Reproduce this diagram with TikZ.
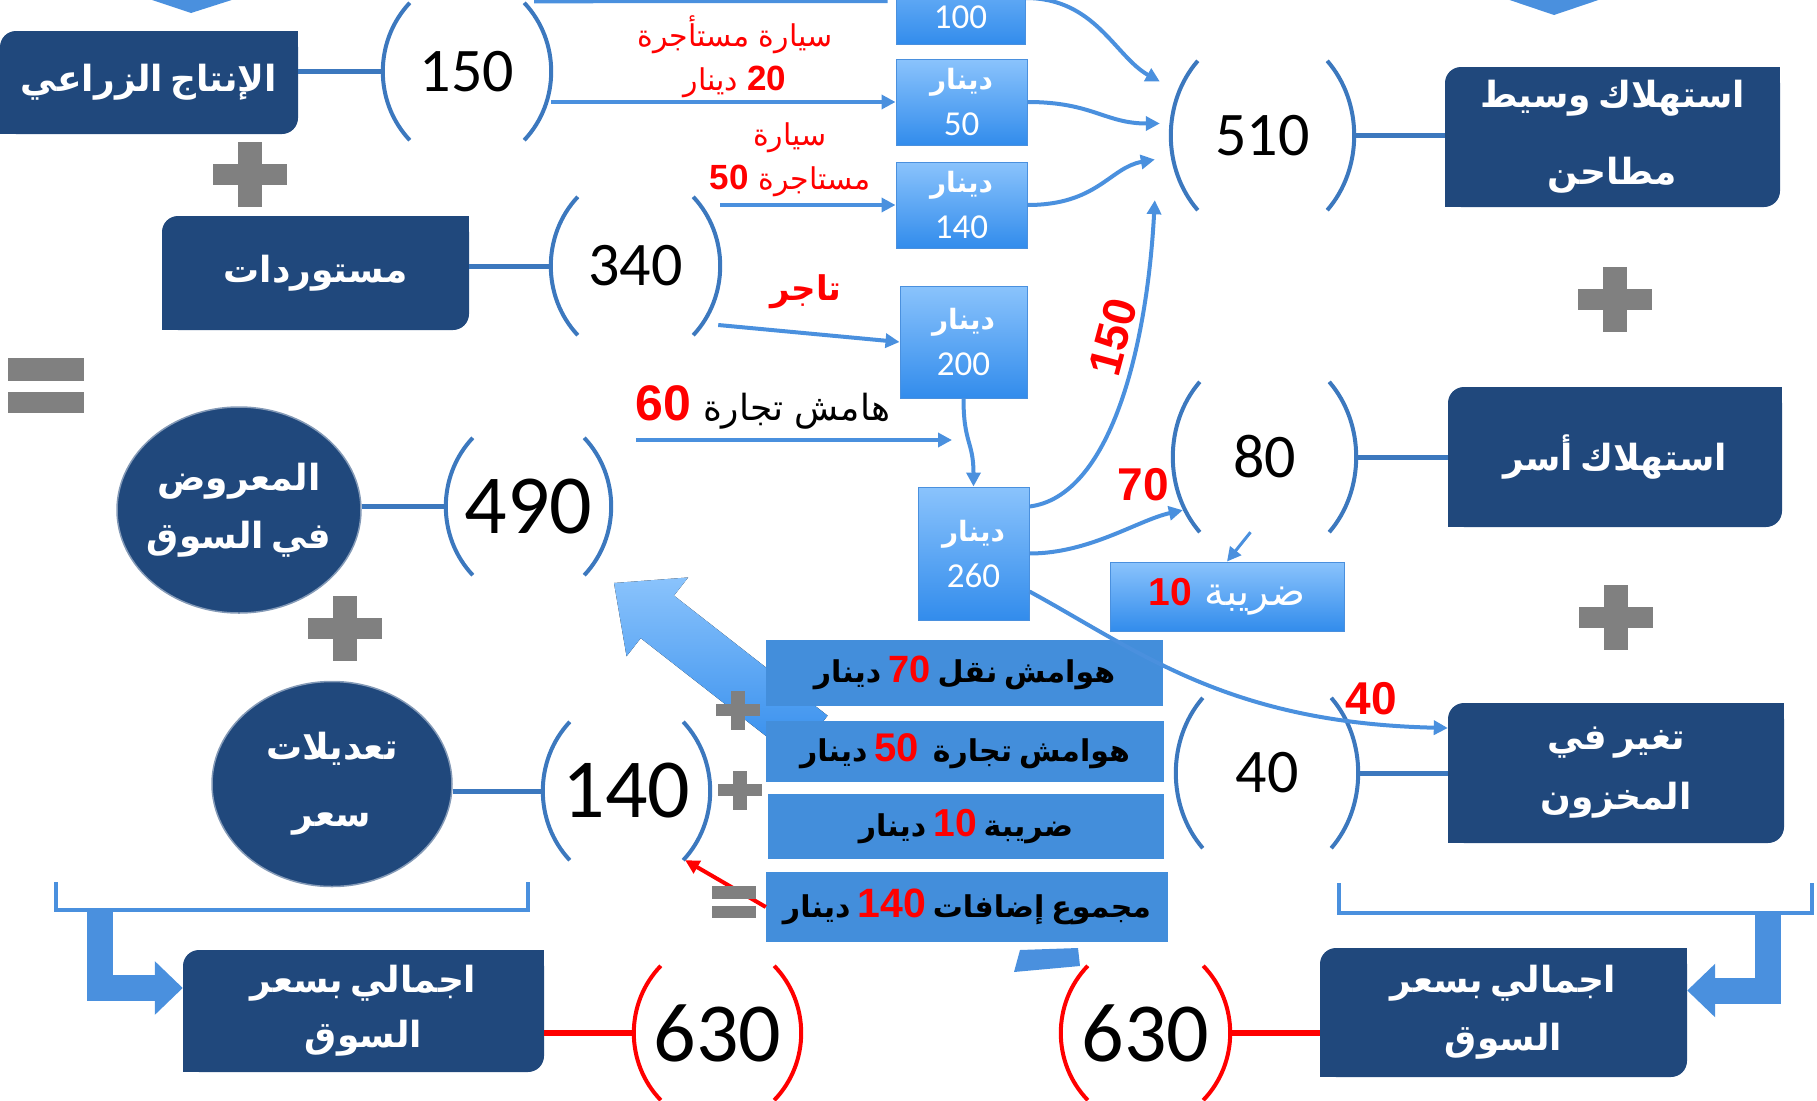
\documentclass[tikz,border=0pt]{standalone}
\usepackage{fontspec}
\usepackage{xcolor}
\usetikzlibrary{positioning}
\usetikzlibrary{calc, arrows.meta, shapes.geometric}
\TeXXeTstate=1
\newfontfamily\arabicfont[Script=Arabic]{DejaVu Sans}
\newfontfamily\calibfont{Carlito}
\newfontfamily\arialfont{Liberation Sans}
\definecolor{navy}{RGB}{32,72,124}
\definecolor{steel}{RGB}{60,120,190}
\definecolor{flowc}{RGB}{74,144,222}
\definecolor{midbox}{RGB}{67,142,219}
\definecolor{lighttop}{RGB}{138,195,252}
\definecolor{lightbot}{RGB}{50,140,236}
\definecolor{signc}{RGB}{128,128,128}
\newcommand{\artext}[1]{\beginR #1\endR}
\newcommand{\rn}[2]{\beginL{\arialfont\bfseries\fontsize{#1}{#1}\selectfont\color{red}#2}\endL}
\newcommand{\wnum}[1]{{\calibfont\mdseries\fontsize{35}{46}\selectfont #1}}
\newcommand{\tightsp}{\spaceskip=7pt plus 2pt\relax}
\tikzstyle{dbox} = [fill=navy, text=white, align=center, inner sep=0pt, rounded corners=16pt, font=\arabicfont\bfseries\fontsize{36}{58}\selectfont\tightsp]
\tikzstyle{oval} = [ellipse, fill=navy, draw=navy!55!white, line width=1.5pt, text=white, align=center, inner sep=-40pt, font=\arabicfont\bfseries\fontsize{36}{58}\selectfont\tightsp]
\tikzstyle{lbox} = [draw=flowc, line width=1pt, top color=lighttop, bottom color=lightbot, text=white, align=center, inner sep=0pt, font=\arabicfont\bfseries\fontsize{28}{46}\selectfont]
\tikzstyle{mbox} = [fill=midbox, text=black, align=center, inner sep=0pt, font=\arabicfont\bfseries\fontsize{30}{40}\selectfont\tightsp]
\tikzstyle{val} = [inner sep=0pt, font=\calibfont\fontsize{62}{62}\selectfont]
\tikzstyle{bigval} = [inner sep=0pt, font=\calibfont\fontsize{84}{84}\selectfont]
\tikzstyle{redlbl} = [text=red, align=center, inner sep=0pt, font=\arabicfont\fontsize{30}{44}\selectfont]
\tikzstyle{rednum} = [text=red, inner sep=0pt, font=\arialfont\bfseries\fontsize{46}{46}\selectfont]
\tikzstyle{link} = [steel, line width=5pt]
\tikzstyle{redlink} = [red, line width=6pt]
\tikzstyle{flow} = [flowc, line width=4pt, -{Triangle[length=14pt,width=14pt]}]
\tikzstyle{redflow} = [red, line width=4pt, -{Triangle[length=14pt,width=14pt]}]
\tikzstyle{elbow} = [flowc, line width=26pt, -{Triangle[length=28pt,width=52pt]}]

\begin{document}
\begin{tikzpicture}[x=1pt, y=-1pt]
    \useasboundingbox (0,0) rectangle (1817,1100);

    % top chevrons and bottom brackets
    \fill[flowc] (122,-10) -- (191,13) -- (263,-10) -- cycle;
    \fill[flowc] (1480,-10) -- (1554,15) -- (1628,-10) -- cycle;
    \draw[flowc, line width=4pt] (56,882) -- (56,910) -- (528,910) -- (528,882);
    \draw[flowc, line width=4pt] (1339,883) -- (1339,913) -- (1812,913) -- (1812,883);
    \coordinate (brl) at (100,910);
    \coordinate (brr) at (1768,913);

    % big arrow behind the margin boxes
    \begin{scope}[shift={(614,583)}, rotate=142]
        \fill[top color=lighttop, bottom color=lightbot] (0,0) -- (-55,50) -- (-55,27) -- (-250,27) -- (-250,-27) -- (-55,-27) -- (-55,-50) -- cycle;
    \end{scope}

    % left side
    \node[dbox, minimum width=298pt, minimum height=103pt] (agri) at (149,82.5) {\artext{الإنتاج الزراعي}};
    \node[dbox, minimum width=307pt, minimum height=114pt] (imp) at (315.5,273) {\artext{مستوردات}};
    \node[oval, minimum width=244pt, minimum height=206pt] (offer) at (239,510) {\artext{المعروض}\\\artext{في السوق}};
    \node[oval, minimum width=240pt, minimum height=205pt] (adj) at (332,784) {\artext{تعديلات}\\[9pt]\artext{سعر}};
    \node[dbox, minimum width=361pt, minimum height=122pt] (totl) at (363.5,1011) {\artext{اجمالي بسعر}\\[-3pt]\artext{السوق}};

    % right side
    \node[dbox, minimum width=335pt, minimum height=140pt] (midc) at (1612.5,137) {\artext{استهلاك وسيط}\\[19pt]\artext{مطاحن}};
    \node[dbox, minimum width=334pt, minimum height=140pt] (hh) at (1615,457) {\artext{استهلاك أسر}};
    \node[dbox, minimum width=336pt, minimum height=140pt] (stock) at (1616,773) {\artext{تغير في}\\[2pt]\artext{المخزون}};
    \node[dbox, minimum width=367pt, minimum height=129pt] (totr) at (1503.5,1012.5) {\artext{اجمالي بسعر}\\\artext{السوق}};
    \foreach \b in {agri, imp, totl, midc, hh, stock, totr} {
        \fill[navy] (\b.north east) rectangle ++(-20,20);
        \fill[navy] (\b.south west) rectangle ++(20,-20);
    }

    % values
    \node[val, minimum width=168pt, minimum height=137pt] (v150) at (467,71.5) {150};
    \node[val, minimum width=169pt, minimum height=138pt] (v340) at (635.5,266) {340};
    \node[bigval, minimum width=165pt, minimum height=137pt] (v490) at (528.5,506.5) {490};
    \node[bigval, minimum width=167pt, minimum height=138pt] (v140) at (626.5,791) {140};
    \node[val, minimum width=183pt, minimum height=149pt] (v510) at (1262.5,135.5) {510};
    \node[val, minimum width=183pt, minimum height=150pt] (v80) at (1264.5,457) {80};
    \node[val, minimum width=182pt, minimum height=150pt] (v40) at (1267,773) {40};
    \node[bigval, minimum width=167pt, minimum height=134pt] (v630a) at (717.5,1033) {630};
    \node[bigval, minimum width=169pt, minimum height=134pt] (v630b) at (1145.5,1033) {630};
    \foreach \v/\c in {v150/steel, v340/steel, v490/steel, v140/steel, v510/steel, v80/steel, v40/steel, v630a/red, v630b/red} {
        \draw[\c, line width=4pt] ($(\v.north west)+(27,0)$) .. controls ($(\v.west)!0.446!(\v.north west)+(-9,0)$) and ($(\v.west)!0.446!(\v.south west)+(-9,0)$) .. ($(\v.south west)+(27,0)$);
        \draw[\c, line width=4pt] ($(\v.north east)+(-27,0)$) .. controls ($(\v.east)!0.446!(\v.north east)+(9,0)$) and ($(\v.east)!0.446!(\v.south east)+(9,0)$) .. ($(\v.south east)+(-27,0)$);
    }

    % small price boxes
    \node[lbox, minimum width=129pt, anchor=south, text height=77pt, text depth=16pt] (b100) at (960.5,45) {\wnum{100}};
    \node[lbox, minimum width=131pt, minimum height=86pt] (b50) at (961.5,102) {\artext{دينار}\\\wnum{50}};
    \node[lbox, minimum width=131pt, minimum height=86pt] (b140) at (961.5,205) {\artext{دينار}\\\wnum{140}};
    \node[lbox, minimum width=127pt, minimum height=112pt] (b200) at (963.5,342) {\artext{دينار}\\\wnum{200}};
    \node[lbox, minimum width=111pt, minimum height=133pt] (b260) at (973.5,553.5) {\artext{دينار}\\\wnum{260}};
    \node[lbox, minimum width=234pt, minimum height=69pt, font=\arabicfont\fontsize{40}{46}\selectfont] (tax) at (1227,596.5) {\artext{ضريبة \rn{39}{10}}};

    % margin boxes
    \node[mbox, minimum width=397pt, minimum height=66pt] (m1) at (964.5,673) {\artext{هوامش نقل \rn{38}{70} دينار}};
    \node[mbox, minimum width=398pt, minimum height=61pt] (m2) at (965,751.5) {\artext{هوامش تجارة\ \ \rn{40}{50} دينار}};
    \node[mbox, minimum width=396pt, minimum height=65pt] (m3) at (966,826.5) {\artext{ضريبة \rn{39}{10} دينار}};
    \node[mbox, minimum width=402pt, minimum height=70pt] (m4) at (967,907) {\artext{مجموع إضافات \rn{41}{140} دينار}};
    \fill[flowc] (1020,950) -- (1078,948) -- (1080,966) -- (1014,972) -- cycle;

    % labels
    \node[redlbl] (rent1) at (735,57) {\artext{سيارة مستأجرة}\\\artext{\rn{35}{20} دينار}};
    \node[redlbl] (rent2) at (790,160) {\artext{سيارة}\\\artext{مستاجرة \rn{35}{50}}};
    \node[redlbl, font=\arabicfont\bfseries\fontsize{34}{40}\selectfont] (trader) at (806,292) {\artext{تاجر}};
    \node[inner sep=0pt, font=\arabicfont\fontsize{36}{40}\selectfont] (tr60) at (763,407) {\artext{هامش تجارة \rn{50}{60}}};
    \node[rednum, rotate=75] (lbl150) at (1113,337) {150};
    \node[rednum] (lbl70) at (1143,485) {70};
    \node[rednum] (lbl40) at (1371,699) {40};
    \coordinate (m60) at (952,440);

    % connectors
    \draw[link] (agri.east |- v150.west) -- (v150.west);
    \draw[link] (imp.east |- v340.west) -- (v340.west);
    \draw[link] (offer.east |- v490.west) -- (v490.west);
    \draw[link] (adj.east |- v140.west) -- (v140.west);
    \draw[link] (v510.east) -- (midc.west |- v510.east);
    \draw[link] (v80.east) -- (hh.west |- v80.east);
    \draw[link] (v40.east) -- (stock.west |- v40.east);
    \draw[redlink] (totl.east |- v630a.west) -- (v630a.west);
    \draw[redlink] (v630b.east) -- (totr.west |- v630b.east);

    \draw[flowc, line width=5pt] ($(v150.north east)+(-17,-2)$) -- ($(b100.west)+(-8,2.5)$);
    \draw[flow] (b50.west -| v150.east) -- (b50.west);
    \draw[flow] (b140.west -| v340.east) -- (b140.west);
    \draw[flow] ($(v340.east)+(-2,59)$) -- (b200.west);
    \draw[flow] (tr60.south west |- m60) -- (m60);
    \draw[flow] (b100.east) .. controls +(70,0) and +(-45,-25) .. ($(v510.west)+(-11,-54)$);
    \draw[flow] (b50.east) .. controls +(65,0) and +(-55,0) .. ($(v510.west)+(-11,-12)$);
    \draw[flow] (b140.east) .. controls +(70,0) and +(-45,8) .. ($(v510.west)+(-16,24)$);
    \draw[flow] (b200.south) .. controls +(0,45) and +(0,-45) .. (b260.north);
    \draw[flow] ($(b260.east)+(0,-47)$) .. controls +(80,-10) and +(-8,150) .. ($(v510.south west)+(-16,-10)$);
    \draw[flow] (b260.east) .. controls +(60,0) and +(-45,10) .. ($(v80.south west)+(10,-22)$);
    \draw[flow] ($(b260.east)+(0,38)$) .. controls +(110,60) and +(-220,-5) .. ($(stock.west)+(0,-45)$);
    \draw[flow, line width=3pt] ($(v80.south)+(-14,0)$) -- (tax.north);
    \draw[redflow] (m4.west) -- ($(v140.south east)+(-25,0)$);
    \draw[elbow] (brl) |- ($(totl.west)+(0,-23)$);
    \draw[elbow] (brr) |- ($(totr.east)+(0,-22)$);

    % plus and equals signs
    \foreach \x/\y/\s in {250/174/1, 1615/299/1, 1616/617/1, 345/628/1, 738/710/0.6, 740/790/0.6} {
        \fill[signc] (\x-37*\s,\y-10.5*\s) rectangle (\x+37*\s,\y+10.5*\s);
        \fill[signc] (\x-12*\s,\y-32.5*\s) rectangle (\x+12*\s,\y+32.5*\s);
    }
    \foreach \x/\y/\s in {46/385.5/1, 734/902/0.58} {
        \fill[signc] (\x-38*\s,\y-27.5*\s) rectangle (\x+38*\s,\y-4.5*\s);
        \fill[signc] (\x-38*\s,\y+6.5*\s) rectangle (\x+38*\s,\y+27.5*\s);
    }
\end{tikzpicture}
\end{document}
